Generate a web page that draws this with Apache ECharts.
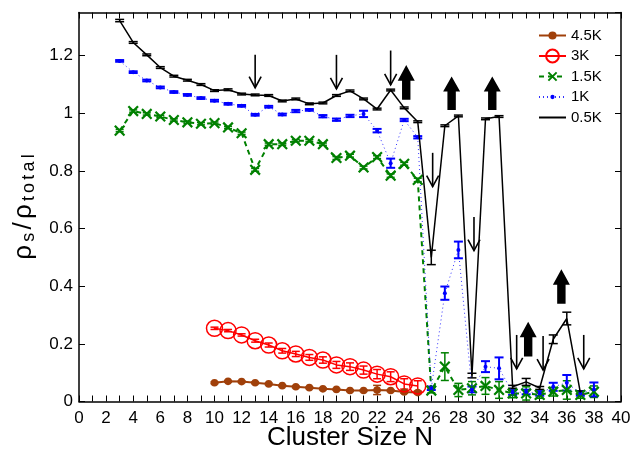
<!DOCTYPE html>
<html>
<head>
<meta charset="utf-8">
<script src="https://cdn.jsdelivr.net/npm/echarts@6/dist/echarts.min.js"></script>
<style>html,body{margin:0;padding:0;background:#fff;}#c{width:632px;height:450px;}</style>
</head>
<body>
<div id="c"></div>
<script>
// ---- data ----
const xShort = [10,11,12,13,14,15,16,17,18,19,20,21,22,23,24,25];
const xLong  = [3,4,5,6,7,8,9,10,11,12,13,14,15,16,17,18,19,20,21,22,23,24,25,26,27,28,29,30,31,32,33,34,35,36,37,38];
const x05K   = [3,4,5,6,7,8,9,10,11,12,13,14,15,16,17,18,19,20,21,22,23,24,25,26,27,28,29,30,31,32,33,34,35,36,37];

const v45K = [0.065,0.070,0.069,0.065,0.061,0.055,0.051,0.048,0.044,0.042,0.038,0.038,0.040,0.038,0.033,0.031];
const e45K = [0.003,0.003,0.003,0.003,0.003,0.003,0.003,0.003,0.003,0.003,0.003,0.003,0.016,0.003,0.004,0.004];

const v3K = [0.254,0.246,0.231,0.211,0.196,0.176,0.165,0.153,0.144,0.127,0.121,0.109,0.095,0.086,0.061,0.054];
const e3K = [0.004,0.004,0.004,0.005,0.007,0.008,0.009,0.010,0.011,0.012,0.013,0.014,0.016,0.017,0.018,0.018];

const v15K = [0.940,1.008,0.998,0.989,0.977,0.969,0.964,0.966,0.951,0.931,0.804,0.893,0.893,0.905,0.905,0.893,0.845,0.853,0.812,0.848,0.784,0.825,0.769,
              0.038,0.121,0.040,0.046,0.054,0.040,0.028,0.028,0.023,0.034,0.040,0.023,0.034];
const e15K = [0.004,0.004,0.004,0.004,0.004,0.004,0.004,0.004,0.004,0.004,0.005,0.004,0.004,0.004,0.004,0.004,0.005,0.005,0.005,0.005,0.006,0.005,0.006,
              0.008,0.048,0.023,0.023,0.029,0.029,0.015,0.023,0.012,0.015,0.032,0.012,0.020];

const v1K = [1.182,1.143,1.114,1.090,1.074,1.064,1.053,1.044,1.033,1.026,0.995,1.023,0.996,1.008,1.012,0.990,0.978,0.991,0.998,0.940,0.827,0.977,0.917,
             0.046,0.376,0.526,0.042,0.121,0.115,0.031,0.033,0.028,0.051,0.065,0.028,0.042];
const e1K = [0.003,0.003,0.003,0.003,0.003,0.003,0.003,0.003,0.003,0.003,0.003,0.003,0.003,0.004,0.003,0.004,0.004,0.004,0.011,0.006,0.016,0.004,0.004,
             0.006,0.023,0.029,0.010,0.019,0.038,0.008,0.008,0.008,0.014,0.027,0.008,0.024];

const v05K = [1.322,1.246,1.203,1.159,1.129,1.115,1.100,1.079,1.082,1.067,1.064,1.062,1.043,1.050,1.033,1.036,1.062,1.078,1.050,1.015,1.081,1.019,0.971,
              0.500,0.957,0.991,0.090,0.981,0.989,0.051,0.068,0.047,0.216,0.288,0.031];
const e05K = [0.004,0.003,0.003,0.003,0.003,0.003,0.003,0.003,0.003,0.003,0.003,0.003,0.003,0.003,0.003,0.003,0.003,0.003,0.003,0.003,0.003,0.003,0.003,
              0.025,0.003,0.003,0.008,0.003,0.003,0.005,0.012,0.005,0.015,0.022,0.005];

// annotation arrows: [x, yStart, yTip]
const downArrows = [[13,1.203,1.089],[19,1.203,1.085],[23,1.218,1.099],[26.1,0.863,0.746],[29.15,0.640,0.524],[32.3,0.231,0.113],[34.25,0.227,0.109],[37.25,0.231,0.113]];
const upArrows   = [[24.15,1.047,1.168],[27.5,1.012,1.128],[30.5,1.012,1.128],[33.15,0.156,0.277],[35.6,0.339,0.459]];

const xTicks = [0,2,4,6,8,10,12,14,16,18,20,22,24,26,28,30,32,34,36,38,40];
const yTicks = [0,0.2,0.4,0.6,0.8,1,1.2];

// ---- build ----
const FONT = 'Liberation Sans, Arial, Helvetica, sans-serif';
function pairs(xs, vs){ return xs.map((x,i)=>[x, vs[i]]); }
function errData(xs, vs, es){ return xs.map((x,i)=>[x, vs[i]-es[i], vs[i]+es[i]]); }
function errSeries(name, xs, vs, es, color, lw, cap){
  return {
    type:'custom', name: name + '_err', silent:true, z:3,
    data: errData(xs, vs, es),
    encode:{x:0, y:[1,2]},
    renderItem: function(params, api){
      const x = api.value(0);
      const p1 = api.coord([x, api.value(1)]);
      const p2 = api.coord([x, api.value(2)]);
      const st = {stroke:color, lineWidth:lw};
      return {type:'group', children:[
        {type:'line', shape:{x1:p1[0],y1:p1[1],x2:p2[0],y2:p2[1]}, style:st},
        {type:'line', shape:{x1:p1[0]-cap,y1:p1[1],x2:p1[0]+cap,y2:p1[1]}, style:st},
        {type:'line', shape:{x1:p2[0]-cap,y1:p2[1],x2:p2[0]+cap,y2:p2[1]}, style:st}
      ]};
    }
  };
}

const C45 = '#A0400A', C3 = '#FF0000', C15 = '#008000', C1 = '#0000FF', C05 = '#000000';
// padded path symbols (moveTo corners set the bounding box so the glyph stays small)
const SYM_DOT45 = 'path://M0,0M11,11M2,5.5a3.5,3.5 0 1,0 7,0a3.5,3.5 0 1,0 -7,0z';
const SYM_DOT1  = 'path://M0,0M12,12M4,6a2,2 0 1,0 4,0a2,2 0 1,0 -4,0z';
const SYM_X     = 'path://M0,0M14,14M2.5,2.5L11.5,11.5M11.5,2.5L2.5,11.5';
const SYM_NONE  = 'path://M0,0M1,1';

const series = [
  errSeries('4.5K', xShort, v45K, e45K, C45, 1.5, 4),
  {type:'line', name:'4.5K', data: pairs(xShort, v45K), z:4,
   symbol:SYM_DOT45, symbolSize:12, itemStyle:{color:C45},
   lineStyle:{color:C45, width:2}},
  errSeries('3K', xShort, v3K, e3K, C3, 1.5, 4),
  {type:'line', name:'3K', data: pairs(xShort, v3K), z:4,
   symbol:'circle', symbolSize:16, itemStyle:{color:'rgba(0,0,0,0)', borderColor:C3, borderWidth:1.5},
   lineStyle:{color:C3, width:1.5}},
  errSeries('1.5K', xLong, v15K, e15K, C15, 1.5, 4),
  {type:'line', name:'1.5K', data: pairs(xLong, v15K), z:4,
   symbol:SYM_X, symbolSize:15, itemStyle:{color:'rgba(0,0,0,0)', borderColor:C15, borderWidth:2.2},
   lineStyle:{color:C15, width:2, type:[5,4]}},
  errSeries('1K', xLong, v1K, e1K, C1, 2, 4.5),
  {type:'line', name:'1K', data: pairs(xLong, v1K), z:4,
   symbol:SYM_DOT1, symbolSize:12, itemStyle:{color:C1},
   lineStyle:{color:C1, width:1, type:[1,3], opacity:0.8}},
  errSeries('0.5K', x05K, v05K, e05K, C05, 1.5, 4.5),
  {type:'line', name:'0.5K', data: pairs(x05K, v05K), z:5,
   symbol:SYM_NONE, symbolSize:1, showSymbol:false, itemStyle:{color:'rgba(0,0,0,0)'},
   lineStyle:{color:C05, width:1.5}},
  {type:'custom', name:'down', silent:true, z:6, data: downArrows, encode:{x:0,y:[1,2]},
   renderItem: function(params, api){
     const x = api.value(0);
     const a = api.coord([x, api.value(1)]);
     const b = api.coord([x, api.value(2)]);
     const st = {stroke:'#000', lineWidth:1.6, fill:null};
     return {type:'group', children:[
       {type:'line', shape:{x1:a[0],y1:a[1],x2:b[0],y2:b[1]}, style:st},
       {type:'polyline', shape:{points:[[b[0]-6,b[1]-11],[b[0],b[1]],[b[0]+6,b[1]-11]]}, style:st}
     ]};
   }},
  {type:'custom', name:'up', silent:true, z:6, data: upArrows, encode:{x:0,y:[1,2]},
   renderItem: function(params, api){
     const x = api.value(0);
     const a = api.coord([x, api.value(1)]);
     const b = api.coord([x, api.value(2)]);
     const h = a[1]-b[1];
     const hh = h*0.45, hw = 8.5, sw = 4.2;
     const pts = [[b[0],b[1]],[b[0]+hw,b[1]+hh],[b[0]+sw,b[1]+hh],[b[0]+sw,a[1]],[b[0]-sw,a[1]],[b[0]-sw,b[1]+hh],[b[0]-hw,b[1]+hh]];
     return {type:'polygon', shape:{points:pts}, style:{fill:'#000'}};
   }}
];

const axisCommon = {
  axisLine:{onZero:false, lineStyle:{color:'#000', width:1.5}},
  splitLine:{show:false}
};

const chart = echarts.init(document.getElementById('c'), null, {renderer:'canvas'});
chart.setOption({
  animation:false,
  backgroundColor:'#fff',
  grid:{left:79, right:11, top:12.5, bottom:48.5, containLabel:false, outerBoundsMode:'none'},
  legend:{
    orient:'vertical', left:533, top:23, itemWidth:27, itemHeight:16, itemGap:5.5,
    data:['4.5K','3K','1.5K','1K','0.5K'],
    textStyle:{fontFamily:FONT, fontSize:15, color:'#000'},
    backgroundColor:'#fff'
  },
  xAxis:[
    Object.assign({type:'value', min:0, max:40, interval:2, position:'bottom',
      name:'Cluster Size N', nameLocation:'middle', nameGap:22, nameMoveOverlap:false,
      nameTextStyle:{fontFamily:FONT, fontSize:26, lineHeight:28, color:'#000'},
      axisTick:{inside:true, length:6, lineStyle:{color:'#000'}},
      minorTick:{show:true, splitNumber:2, length:6, lineStyle:{color:'#000'}},
      axisLabel:{fontFamily:FONT, fontSize:17, color:'#000', margin:8,
        formatter:function(v){ return xTicks.indexOf(v)>=0 ? String(v) : ''; }}
    }, axisCommon),
    Object.assign({type:'value', min:0, max:40, interval:2, position:'top',
      axisTick:{inside:true, length:6, lineStyle:{color:'#000'}},
      minorTick:{show:true, splitNumber:2, length:6, lineStyle:{color:'#000'}},
      axisLabel:{show:false}
    }, axisCommon)
  ],
  yAxis:[
    Object.assign({type:'value', min:0, max:1.35, interval:0.2, position:'left',
      name:'{a|ρ}{b|s}{a|/}{a|ρ}{b|t}{b|o}{b|t}{b|a}{b|l}', nameLocation:'middle', nameGap:36,
      nameTextStyle:{fontFamily:FONT, color:'#000',
        rich:{a:{fontFamily:FONT, fontSize:26, lineHeight:30, verticalAlign:'middle', color:'#000', padding:[0,1.6,0,1.6]},
              b:{fontFamily:FONT, fontSize:18, lineHeight:13, verticalAlign:'bottom', color:'#000', padding:[0,1.6,0,1.6]}}},
      axisTick:{inside:true, length:6, lineStyle:{color:'#000'}},
      axisLabel:{fontFamily:FONT, fontSize:17, color:'#000', margin:6, showMaxLabel:false,
        formatter:function(v){ const r=Math.round(v*10)/10; return yTicks.indexOf(r)>=0 && Math.abs(v-r)<1e-6 ? String(r) : ''; }}
    }, axisCommon),
    Object.assign({type:'value', min:0, max:1.35, interval:0.2, position:'right',
      axisTick:{inside:true, length:6, lineStyle:{color:'#000'}},
      axisLabel:{show:false}
    }, axisCommon)
  ],
  series: series
});
</script>
</body>
</html>
